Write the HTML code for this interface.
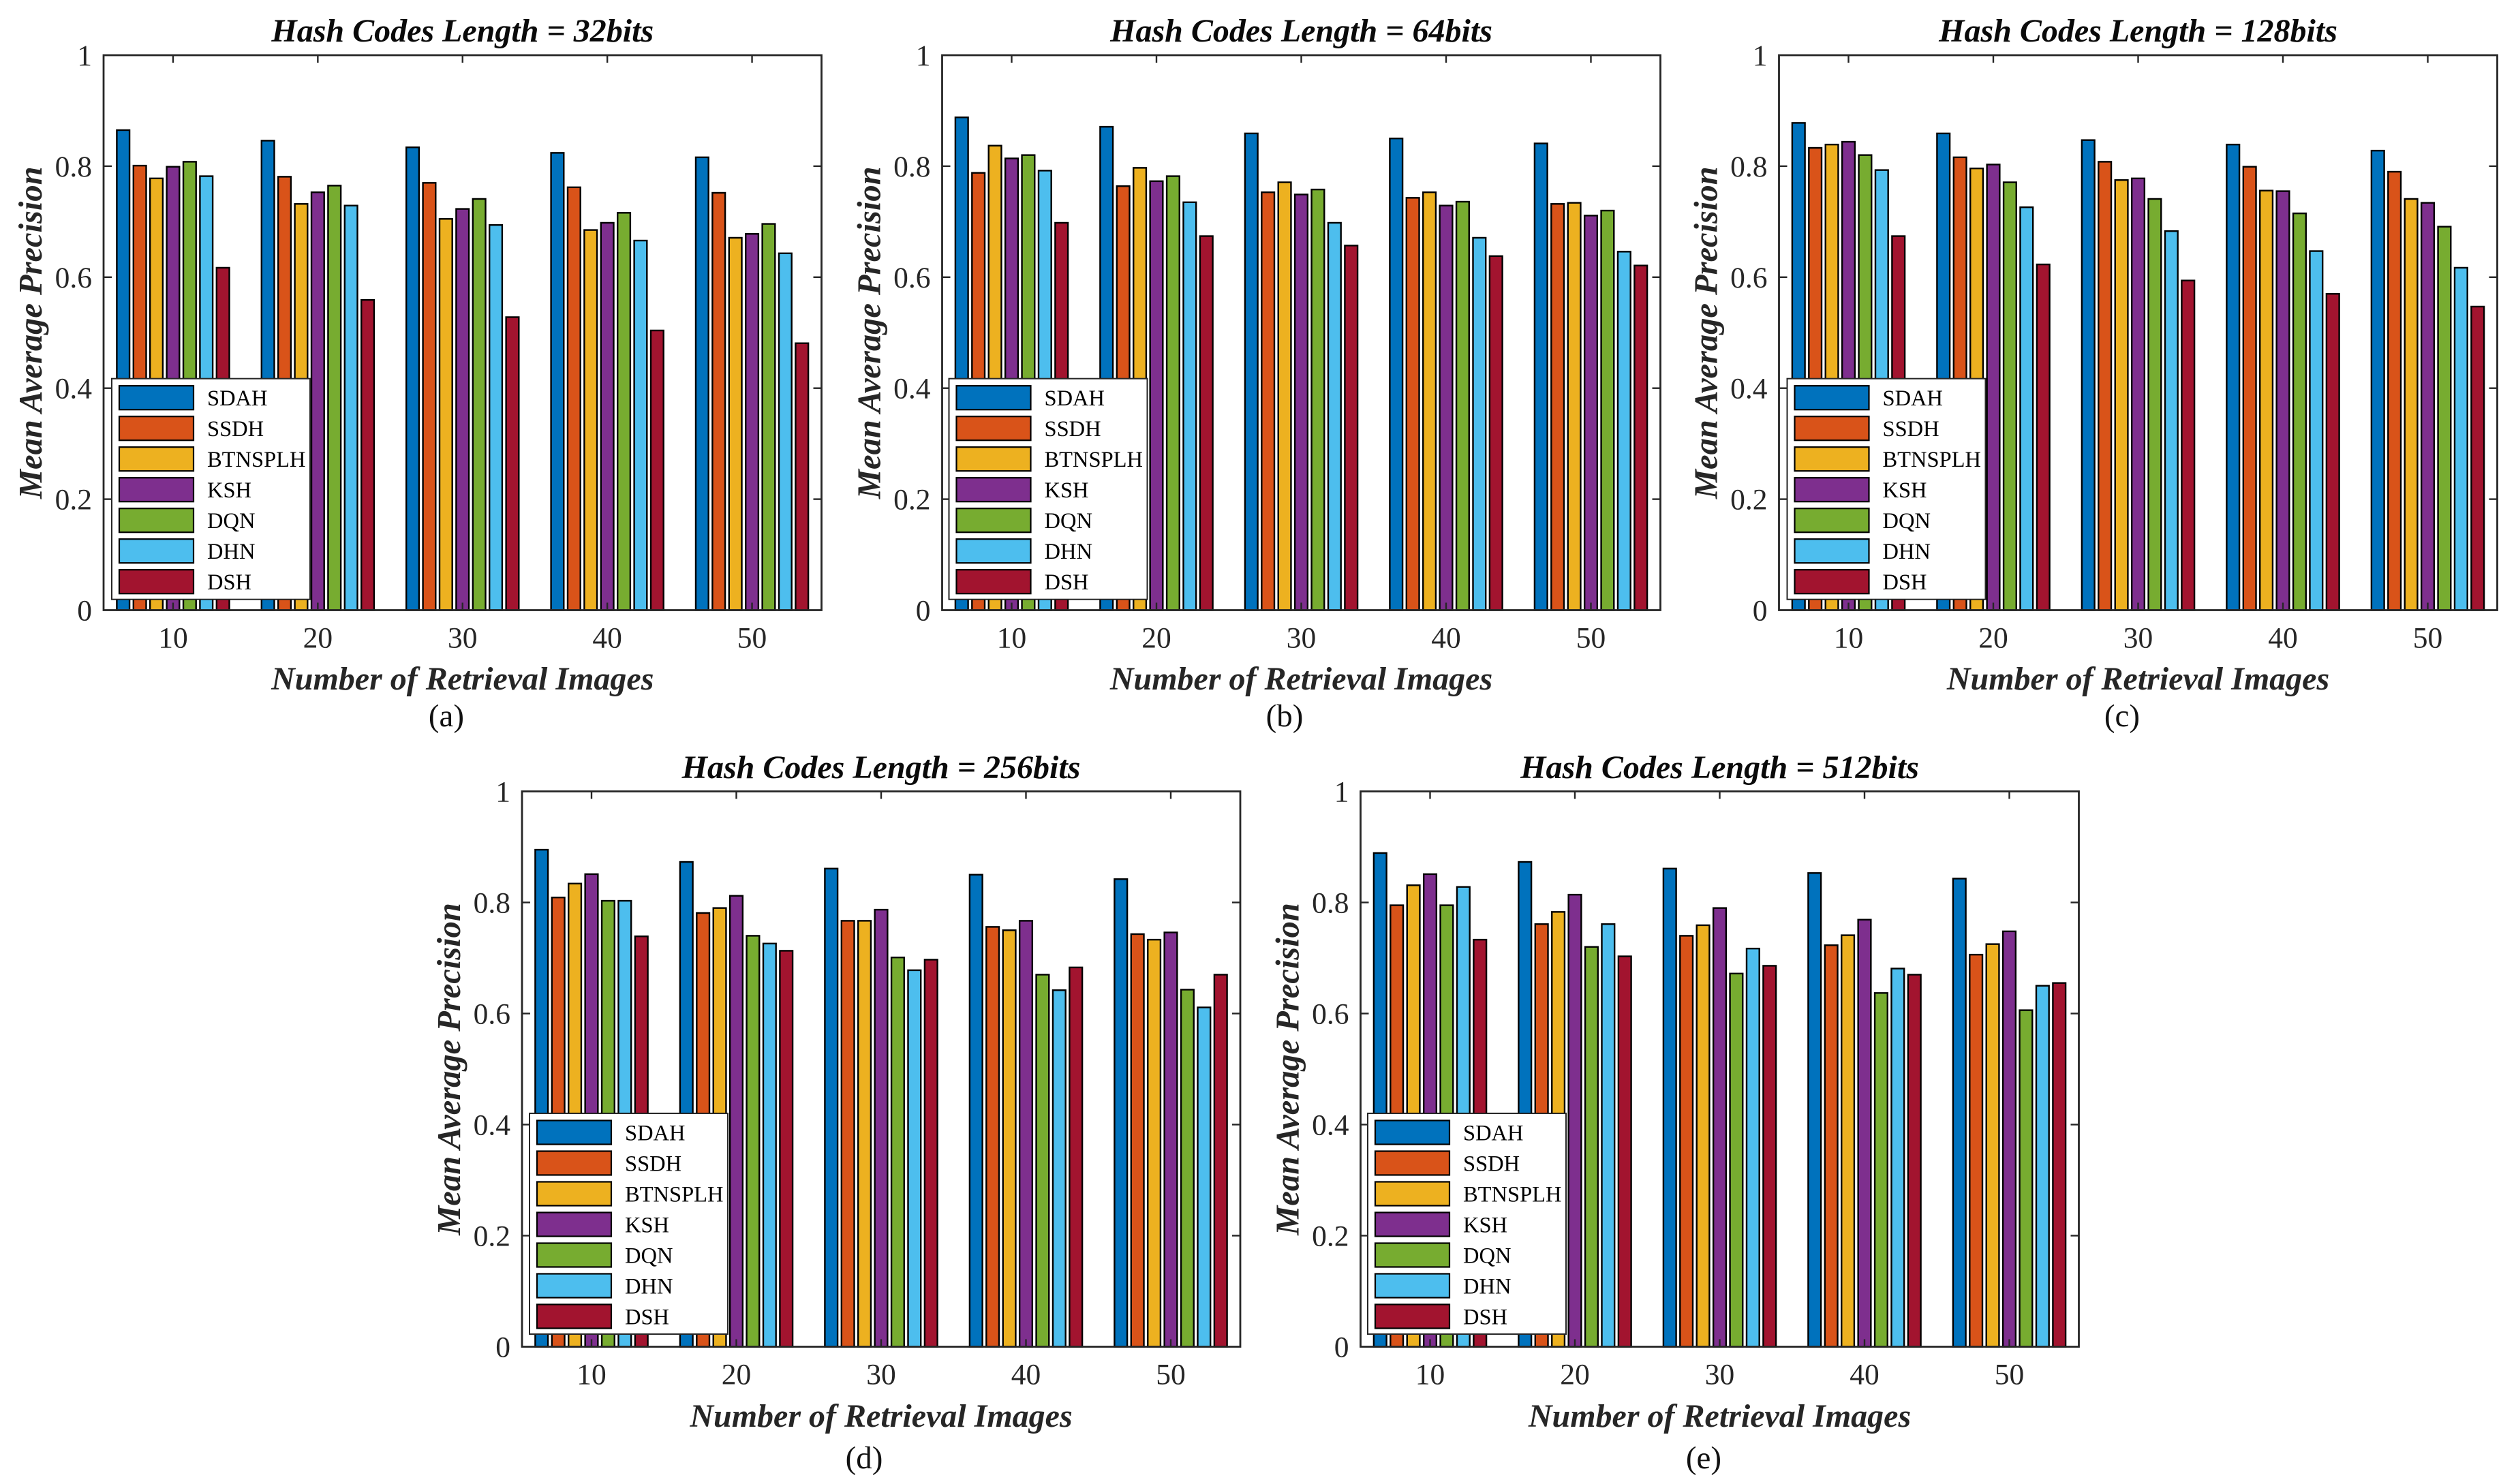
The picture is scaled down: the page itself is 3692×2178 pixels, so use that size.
<!DOCTYPE html>
<html lang="en">
<head>
<meta charset="utf-8">
<title>Mean Average Precision by Hash Code Length</title>
<style>
html,body{margin:0;padding:0;background:#fff;}
svg{display:block;}
text{font-family:"Liberation Serif","Times New Roman",serif;}
</style>
</head>
<body>
<svg id="figure" xmlns="http://www.w3.org/2000/svg" width="3692" height="2178" viewBox="0 0 3692 2178"></svg>
<script>
const categories = [10, 20, 30, 40, 50];
const seriesNames = ['SDAH', 'SSDH', 'BTNSPLH', 'KSH', 'DQN', 'DHN', 'DSH'];
const seriesColors = ['#0072BD', '#D95319', '#EDB120', '#7E2F8E', '#77AC30', '#4DBEEE', '#A2142F'];
const yTickValues = [0, 0.2, 0.4, 0.6, 0.8, 1];
const yTickLabels = ['0', '0.2', '0.4', '0.6', '0.8', '1'];

// values: one row per retrieval count, one column per method
const values32 = [
  [0.865, 0.801, 0.778, 0.799, 0.808, 0.782, 0.617],
  [0.846, 0.781, 0.732, 0.753, 0.765, 0.729, 0.559],
  [0.834, 0.770, 0.705, 0.723, 0.741, 0.694, 0.528],
  [0.824, 0.762, 0.685, 0.698, 0.716, 0.666, 0.504],
  [0.816, 0.752, 0.671, 0.678, 0.696, 0.643, 0.481]
];
const values64 = [
  [0.888, 0.788, 0.837, 0.814, 0.820, 0.792, 0.698],
  [0.871, 0.764, 0.797, 0.773, 0.782, 0.735, 0.674],
  [0.859, 0.753, 0.771, 0.749, 0.758, 0.698, 0.657],
  [0.850, 0.743, 0.753, 0.729, 0.736, 0.671, 0.638],
  [0.841, 0.732, 0.734, 0.711, 0.720, 0.646, 0.621]
];
const values128 = [
  [0.878, 0.833, 0.839, 0.844, 0.820, 0.793, 0.674],
  [0.859, 0.816, 0.796, 0.803, 0.771, 0.726, 0.623],
  [0.847, 0.808, 0.775, 0.778, 0.741, 0.683, 0.594],
  [0.839, 0.799, 0.756, 0.755, 0.715, 0.647, 0.570],
  [0.828, 0.790, 0.741, 0.734, 0.691, 0.617, 0.547]
];
const values256 = [
  [0.895, 0.809, 0.834, 0.851, 0.803, 0.803, 0.739],
  [0.873, 0.781, 0.790, 0.812, 0.740, 0.726, 0.713],
  [0.861, 0.767, 0.767, 0.787, 0.701, 0.678, 0.697],
  [0.850, 0.756, 0.750, 0.767, 0.670, 0.642, 0.683],
  [0.842, 0.743, 0.733, 0.746, 0.643, 0.611, 0.670]
];
const values512 = [
  [0.889, 0.795, 0.831, 0.851, 0.795, 0.828, 0.733],
  [0.873, 0.761, 0.783, 0.814, 0.720, 0.761, 0.703],
  [0.861, 0.740, 0.759, 0.790, 0.672, 0.717, 0.686],
  [0.853, 0.723, 0.741, 0.769, 0.637, 0.681, 0.670],
  [0.843, 0.706, 0.725, 0.748, 0.606, 0.650, 0.655]
];

const svg = document.getElementById('figure');
const NS = 'http://www.w3.org/2000/svg';
const INK = '#262626';

function make(parent, tag, attrs, content) {
  const el = document.createElementNS(NS, tag);
  for (const k in attrs) el.setAttribute(k, attrs[k]);
  if (content !== undefined) el.textContent = content;
  parent.appendChild(el);
  return el;
}

function drawPanel(cfg) {
  const { bits, values, caption, left, right, top, bottom, legendLeft, legendTop, captionX, captionY, titleY, xLabelY } = cfg;
  const xMin = 5.2, xMax = 54.8;
  const xScale = c => left + (c - xMin) / (xMax - xMin) * (right - left);
  const yScale = v => bottom - v * (bottom - top);
  const cx = (left + right) / 2;
  const cy = (top + bottom) / 2;

  const panel = make(svg, 'g', {});
  
  

  // bars
  categories.forEach((cat, i) => {
    seriesNames.forEach((name, s) => {
      const xc = xScale(cat + (s - 3) * 1.149);
      const half = (xScale(xMin + 0.88) - left) / 2;
      const y = yScale(values[i][s]);
      const bar = make(panel, 'rect', {
        x: xc - half, y: y, width: half * 2, height: yScale(0) - y,
        fill: seriesColors[s], stroke: '#000', 'stroke-width': 2.4
      });
      
      
    });
  });

  // plot frame
  const frame = make(panel, 'rect', {
    x: left, y: top, width: right - left, height: bottom - top,
    fill: 'none', stroke: INK, 'stroke-width': 2.8
  });
  
  

  // x ticks
  categories.forEach(cat => {
    const x = xScale(cat);
    const tickB = make(panel, 'line', { x1: x, x2: x, y1: bottom, y2: bottom - 11, stroke: INK, 'stroke-width': 2.4 });
    
    
    const tickT = make(panel, 'line', { x1: x, x2: x, y1: top, y2: top + 11, stroke: INK, 'stroke-width': 2.4 });
    
    
    const label = make(panel, 'text', { x: x, y: bottom + 55, 'text-anchor': 'middle', 'font-size': 43.5, fill: INK }, String(cat));
    
    
  });

  // y ticks
  yTickValues.forEach((v, i) => {
    const y = yScale(v);
    if (v > 0 && v < 1) {
      const tickL = make(panel, 'line', { x1: left, x2: left + 12, y1: y, y2: y, stroke: INK, 'stroke-width': 2.4 });
      
      
      const tickR = make(panel, 'line', { x1: right, x2: right - 12, y1: y, y2: y, stroke: INK, 'stroke-width': 2.4 });
      
      
    }
    const label = make(panel, 'text', { x: left - 17, y: y + 15, 'text-anchor': 'end', 'font-size': 43.5, fill: INK }, yTickLabels[i]);
    
    
  });

  // titles
  const title = make(panel, 'text', { x: cx, y: titleY, 'text-anchor': 'middle', 'font-size': 48, 'font-weight': 'bold', 'font-style': 'italic', fill: '#0a0a0a' }, 'Hash Codes Length = ' + bits + 'bits');
  
  

  const xTitle = make(panel, 'text', { x: cx, y: xLabelY, 'text-anchor': 'middle', 'font-size': 48, 'font-weight': 'bold', 'font-style': 'italic', fill: INK }, 'Number of Retrieval Images');
  
  

  const yTitle = make(panel, 'text', { x: 0, y: 0, transform: 'translate(' + (left - 91) + ' ' + cy + ') rotate(-90)', 'text-anchor': 'middle', 'font-size': 48.5, 'font-weight': 'bold', 'font-style': 'italic', fill: INK }, 'Mean Average Precision');
  
  

  const cap = make(panel, 'text', { x: captionX, y: captionY, 'text-anchor': 'middle', 'font-size': 47, fill: '#111' }, caption);
  
  

  // legend
  const legend = make(panel, 'g', {});
  
  
  const box = make(legend, 'rect', { x: legendLeft, y: legendTop, width: 291, height: 324, fill: '#fff', stroke: INK, 'stroke-width': 2 });
  
  
  seriesNames.forEach((name, s) => {
    const entry = make(legend, 'g', {});
    
    
    const sy = legendTop + 10.5 + s * 45;
    const swatch = make(entry, 'rect', { x: legendLeft + 11, y: sy, width: 109, height: 35, fill: seriesColors[s], stroke: '#000', 'stroke-width': 2.2 });
    
    
    const label = make(entry, 'text', { x: legendLeft + 140, y: sy + 29, 'font-size': 32.5, fill: '#000' }, name);
    
    
  });
}

drawPanel({ bits: 32,  values: values32,  caption: '(a)', left: 152,    right: 1205.5, top: 81,     bottom: 895.5,  legendLeft: 164,    legendTop: 555.7, captionX: 655,  captionY: 1066, titleY: 61,   xLabelY: 1012 });
drawPanel({ bits: 64,  values: values64,  caption: '(b)', left: 1382.5, right: 2436.5, top: 81,     bottom: 895.5,  legendLeft: 1392.5, legendTop: 555.7, captionX: 1885, captionY: 1066, titleY: 61,   xLabelY: 1012 });
drawPanel({ bits: 128, values: values128, caption: '(c)', left: 2610.5, right: 3664.5, top: 81,     bottom: 895.5,  legendLeft: 2622.5, legendTop: 555.7, captionX: 3114, captionY: 1066, titleY: 61,   xLabelY: 1012 });
drawPanel({ bits: 256, values: values256, caption: '(d)', left: 766,    right: 1820,   top: 1161.5, bottom: 1976.5, legendLeft: 777,    legendTop: 1634,  captionX: 1268, captionY: 2155, titleY: 1142, xLabelY: 2094 });
drawPanel({ bits: 512, values: values512, caption: '(e)', left: 1996.5, right: 3050.5, top: 1161.5, bottom: 1976.5, legendLeft: 2007,   legendTop: 1634,  captionX: 2500, captionY: 2155, titleY: 1142, xLabelY: 2094 });
</script>
</body>
</html>
